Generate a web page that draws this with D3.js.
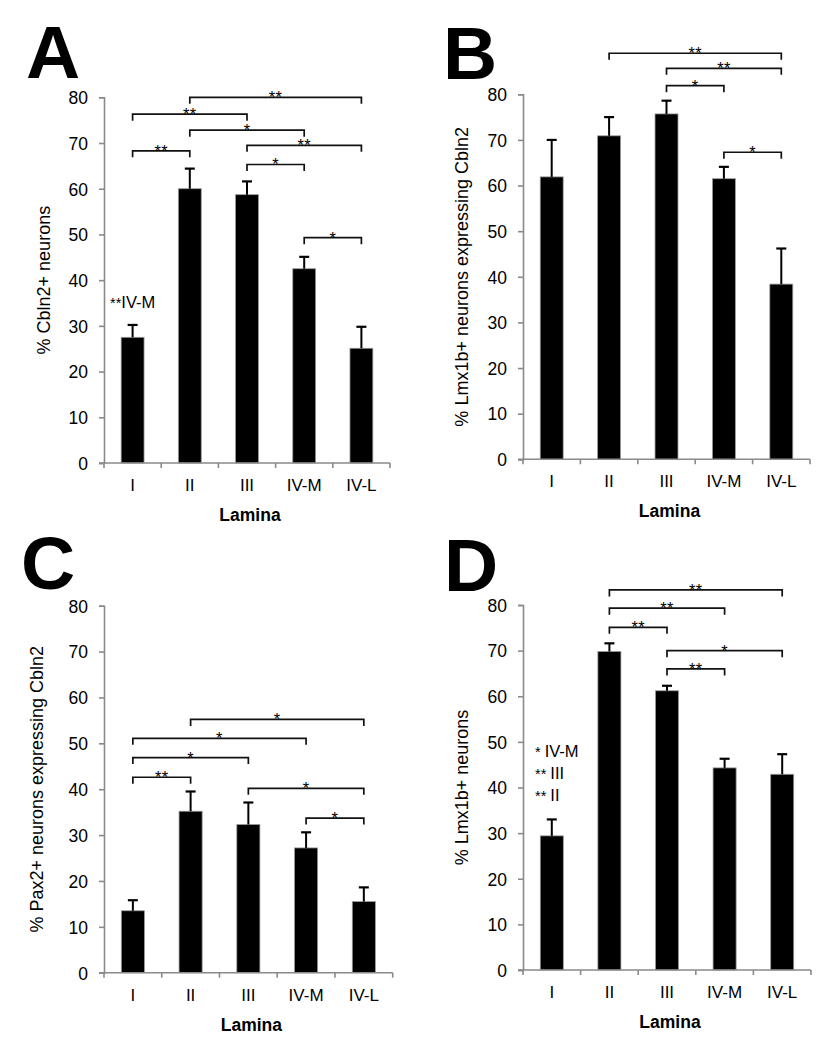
<!DOCTYPE html>
<html>
<head>
<meta charset="utf-8">
<script src="https://cdn.jsdelivr.net/npm/d3@7"></script>
<style>
  html, body { margin: 0; padding: 0; background: #fff; }
  svg { display: block; }
  text { font-family: "Liberation Sans", Arial, Helvetica, sans-serif; fill: #000; }
</style>
</head>
<body>
<svg id="chart" width="834" height="1050"></svg>
<script>
// ---------------- data ----------------
const categories = ["I", "II", "III", "IV-M", "IV-L"];
const yTicks = [0, 10, 20, 30, 40, 50, 60, 70, 80];
const xTitle = "Lamina";

const valuesA = [27.5, 60.0, 58.7, 42.5, 25.1];
const errorsA = [2.7, 4.4, 2.9, 2.6, 4.7];
const valuesB = [61.9, 70.9, 75.7, 61.5, 38.4];
const errorsB = [8.1, 4.1, 2.9, 2.6, 7.8];
const valuesC = [13.5, 35.2, 32.3, 27.2, 15.5];
const errorsC = [2.3, 4.3, 4.8, 3.4, 3.1];
const valuesD = [29.4, 69.8, 61.2, 44.3, 42.9];
const errorsD = [3.6, 1.8, 1.1, 2.0, 4.4];

// significance brackets: [from, to, level, stars]
const bracketsA = [["II","IV-L",80.0,"**"],["I","III",76.3,"**"],["II","IV-M",72.8,"*"],["III","IV-L",69.5,"**"],["I","II",68.3,"**"],["III","IV-M",65.3,"*"],["IV-M","IV-L",49.3,"*"]];
const bracketsB = [["II","IV-L",89.0,"**"],["III","IV-L",85.7,"**"],["III","IV-M",81.9,"*"],["IV-M","IV-L",67.3,"*"]];
const bracketsC = [["II","IV-L",55.2,"*"],["I","IV-M",51.1,"*"],["I","III",46.9,"*"],["I","II",42.6,"**"],["III","IV-L",40.2,"*"],["IV-M","IV-L",33.7,"*"]];
const bracketsD = [["II","IV-L",83.3,"**"],["II","IV-M",79.3,"**"],["II","III",75.1,"**"],["III","IV-L",70.0,"*"],["III","IV-M",66.0,"**"]];

// notes beside bar I: [stars, text, level]
const notesA = [["**","IV-M",33.8]];
const notesB = [];
const notesC = [];
const notesD = [["*","IV-M",46.6],["**","III",41.9],["**","II",37.1]];

const titlesY = ["% Cbln2+ neurons", "% Lmx1b+ neurons expressing Cbln2", "% Pax2+ neurons expressing Cbln2", "% Lmx1b+ neurons"];
const letters = ["A", "B", "C", "D"];

// ---------------- layout ----------------
const panels = [
  { letter: letters[0], title: titlesY[0], values: valuesA, errors: errorsA, brackets: bracketsA, notes: notesA,
    x0: 104, x1: 390, yTop: 97.3, yBot: 463, titleX: 44, letterX: 26, letterY: 78, notesX: 110, notesStarGap: 0 },
  { letter: letters[1], title: titlesY[1], values: valuesB, errors: errorsB, brackets: bracketsB, notes: notesB,
    x0: 523, x1: 810, yTop: 94.3, yBot: 459.3, titleX: 462, letterX: 443, letterY: 79, notesX: 535, notesStarGap: 4 },
  { letter: letters[2], title: titlesY[2], values: valuesC, errors: errorsC, brackets: bracketsC, notes: notesC,
    x0: 104, x1: 392.7, yTop: 605.7, yBot: 972.7, titleX: 37, letterX: 21, letterY: 589, notesX: 110, notesStarGap: 0 },
  { letter: letters[3], title: titlesY[3], values: valuesD, errors: errorsD, brackets: bracketsD, notes: notesD,
    x0: 523, x1: 811, yTop: 605, yBot: 970, titleX: 461.5, letterX: 444, letterY: 591, notesX: 535, notesStarGap: 4 }
];

const svg = d3.select("#chart");
const axisColor = "#8a8a8a";

panels.forEach(p => {
  const g = svg.append("g");
  const x = d3.scaleBand().domain(categories).range([p.x0, p.x1]).paddingInner(0.6).paddingOuter(0.3);
  const y = d3.scaleLinear().domain([0, 80]).range([p.yBot, p.yTop]);
  const step = x.step();
  const cx = c => x(c) + x.bandwidth() / 2;

  // panel letter
  g.append("text").attr("x", p.letterX).attr("y", p.letterY)
    .attr("font-size", 75).attr("font-weight", "bold").text(p.letter);

  // y axis
  const yAxis = d3.axisLeft(y).tickValues(yTicks).tickSize(5).tickPadding(11).tickFormat(d3.format("d"));
  const ya = g.append("g").attr("transform", `translate(${p.x0},0)`).call(yAxis);
  ya.select(".domain").attr("stroke", axisColor).attr("stroke-width", 1.6);
  ya.selectAll(".tick line").attr("stroke", axisColor).attr("stroke-width", 1.6);
  ya.selectAll(".tick text").attr("font-size", 17.5).attr("fill", "#000")
    .attr("font-family", "Liberation Sans, Arial, sans-serif").attr("dy", "0.36em");

  // bars
  g.selectAll("rect.bar").data(p.values).enter().append("rect")
    .attr("class", "bar")
    .attr("x", (d, i) => x(categories[i]))
    .attr("y", d => y(d))
    .attr("width", x.bandwidth())
    .attr("height", d => y(0) - y(d))
    .attr("fill", "#000").attr("stroke", "#9a9a9a").attr("stroke-width", 0.8);

  // error bars
  p.values.forEach((v, i) => {
    const c = cx(categories[i]);
    const top = y(v + p.errors[i]);
    g.append("line").attr("x1", c).attr("x2", c).attr("y1", y(v)).attr("y2", top)
      .attr("stroke", "#000").attr("stroke-width", 2);
    g.append("line").attr("x1", c - 5).attr("x2", c + 5).attr("y1", top).attr("y2", top)
      .attr("stroke", "#000").attr("stroke-width", 2.2);
  });

  // x axis (drawn after bars)
  g.append("line").attr("x1", p.x0 - 5).attr("x2", p.x1).attr("y1", p.yBot).attr("y2", p.yBot)
    .attr("stroke", axisColor).attr("stroke-width", 1.6);
  d3.range(categories.length + 1).forEach(i => {
    const xx = p.x0 + i * step;
    g.append("line").attr("x1", xx).attr("x2", xx).attr("y1", p.yBot).attr("y2", p.yBot + 5)
      .attr("stroke", axisColor).attr("stroke-width", 1.6);
  });
  g.selectAll("text.xlab").data(categories).enter().append("text")
    .attr("class", "xlab")
    .attr("x", d => cx(d)).attr("y", p.yBot + 28)
    .attr("text-anchor", "middle").attr("font-size", 17).text(d => d);

  // x title
  g.append("text").attr("x", (p.x0 + p.x1) / 2 + 3).attr("y", p.yBot + 58)
    .attr("text-anchor", "middle").attr("font-size", 17.5).attr("font-weight", "bold").text(xTitle);

  // y title
  const ty = (p.yTop + p.yBot) / 2;
  g.append("text").attr("transform", `translate(${p.titleX},${ty}) rotate(-90)`)
    .attr("text-anchor", "middle").attr("dy", "0.35em").attr("font-size", 18).text(p.title);

  // brackets
  p.brackets.forEach(b => {
    const xa = cx(b[0]), xb = cx(b[1]), yy = y(b[2]);
    g.append("path")
      .attr("d", `M${xa},${yy + 6.5}V${yy}H${xb}V${yy + 6.5}`)
      .attr("fill", "none").attr("stroke", "#111").attr("stroke-width", 1.7);
    g.append("text").attr("x", (xa + xb) / 2).attr("y", yy + 6)
      .attr("text-anchor", "middle").attr("font-size", 16.5).attr("letter-spacing", 0.3)
      .attr("fill", "#222").text(b[3]);
  });

  // notes
  p.notes.forEach(n => {
    const t = g.append("text").attr("x", p.notesX).attr("y", y(n[2])).attr("font-size", 16.5);
    t.append("tspan").attr("font-size", 14.5).attr("dy", 0).text(n[0] + (p.notesStarGap ? " " : ""));
    t.append("tspan").text(n[1]);
  });
});
</script>
</body>
</html>
